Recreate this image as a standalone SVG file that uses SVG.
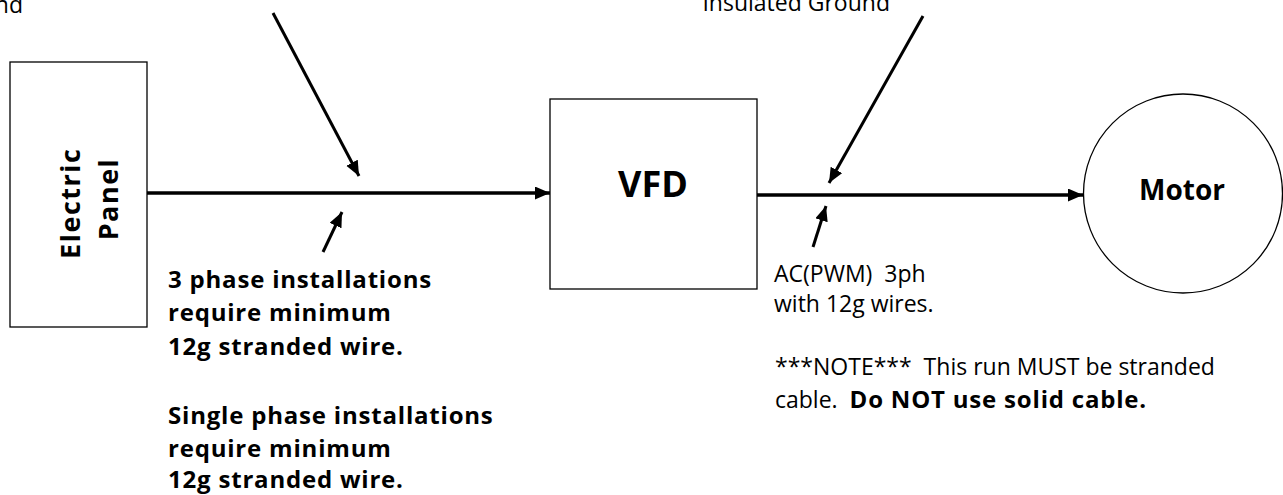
<svg xmlns="http://www.w3.org/2000/svg" width="1283" height="495" viewBox="0 0 1283 495">
  <defs>
    <marker id="ah" markerUnits="userSpaceOnUse" markerWidth="16" markerHeight="14" refX="15" refY="6.5" orient="auto">
      <path d="M0,0 L15,6.5 L0,13 z" fill="#000"/>
    </marker>
  </defs>
  <style>
    .box { fill: #fff; stroke: #000; stroke-width: 1.3; }
    .wire { stroke: #000; stroke-width: 3.4; fill: none; }
    .ptr { stroke: #000; stroke-width: 3; fill: none; }
    .lbl { font-family: "Open Sans", "Noto Sans", sans-serif; font-size: 23px; fill: #000; }
    .bold { font-weight: bold; }
    .big { font-size: 24px; letter-spacing: 0.8px; }
    .node { font-family: "Open Sans", "Noto Sans", sans-serif; font-weight: bold; fill: #000; text-anchor: middle; }
  </style>
  <rect width="1283" height="495" fill="#fff"/>

  <g id="electric-panel">
    <rect class="box" x="10" y="62" width="137" height="265"/>
    <text class="node" font-size="27" letter-spacing="1.5" transform="translate(86,199) rotate(-90)">
      <tspan x="0" y="-6">Electric</tspan>
      <tspan x="0" y="32">Panel</tspan>
    </text>
  </g>

  <g id="vfd">
    <rect class="box" x="550" y="99" width="207" height="190"/>
    <text class="node" font-size="36" x="653" y="197">VFD</text>
  </g>

  <g id="motor">
    <circle class="box" cx="1183" cy="193.5" r="99.5"/>
    <text class="node" font-size="28" x="1182" y="200">Motor</text>
  </g>

  <g id="connectors">
    <line class="wire" x1="147" y1="193" x2="550" y2="193" marker-end="url(#ah)"/>
    <line class="wire" x1="757" y1="195" x2="1083" y2="195" marker-end="url(#ah)"/>
    <line class="ptr" x1="273" y1="13" x2="359" y2="176" marker-end="url(#ah)"/>
    <line class="ptr" x1="323" y1="252" x2="342" y2="212" marker-end="url(#ah)"/>
    <line class="ptr" x1="923" y1="16" x2="829" y2="183" marker-end="url(#ah)"/>
    <line class="ptr" x1="813" y1="247" x2="826" y2="206" marker-end="url(#ah)"/>
  </g>

  <g id="labels">
    <text class="lbl" x="23" y="13" text-anchor="end">nd</text>
    <text class="lbl" x="890" y="11" text-anchor="end">Insulated Ground</text>
    <text class="lbl bold big">
      <tspan x="168" y="288">3 phase installations</tspan>
      <tspan x="168" y="321">require minimum</tspan>
      <tspan x="168" y="355">12g stranded wire.</tspan>
      <tspan x="168" y="424">Single phase installations</tspan>
      <tspan x="168" y="457">require minimum</tspan>
      <tspan x="168" y="488">12g stranded wire.</tspan>
    </text>
    <text class="lbl" xml:space="preserve"><tspan x="774" y="282">AC(PWM)  3ph</tspan><tspan x="774" y="312">with 12g wires.</tspan></text>
    <text class="lbl" xml:space="preserve"><tspan x="775" y="375">***NOTE***  This run MUST be stranded</tspan><tspan x="775" y="408">cable.  <tspan class="bold big">Do NOT use solid cable.</tspan></tspan></text>
  </g>
</svg>
